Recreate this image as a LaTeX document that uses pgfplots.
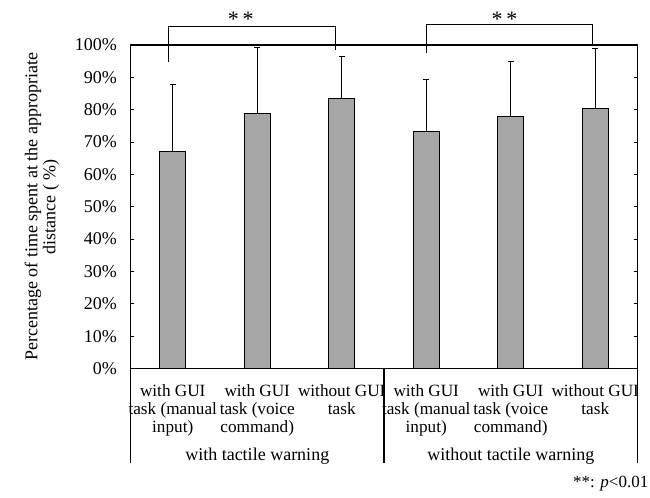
\documentclass[border=0pt]{standalone}
\usepackage{fontspec}
\setmainfont{Liberation Serif}
\usepackage{pgfplots}
\pgfplotsset{compat=1.18}
\definecolor{bargray}{HTML}{A6A6A6}
\begin{document}
\begin{tikzpicture}[font=\fontsize{18bp}{18bp}\selectfont]
\useasboundingbox (-130.5bp,-129.5bp) rectangle (519.5bp,368.5bp);
\begin{axis}[
  at={(0,0)}, anchor=south west,
  scale only axis, width=507bp, height=323.5bp,
  xmin=-0.5, xmax=5.5, ymin=0, ymax=100,
  clip=false,
  axis line style={line width=1.5bp},
  ytick={0,10,...,100},
  yticklabel={\pgfmathprintnumber{\tick}\%},
  /pgf/number format/assume math mode=true,
  tick align=inside, major tick length=4bp,
  ytick style={line width=1bp, black},
  tick label style={font=\fontsize{18bp}{18bp}\selectfont},
  yticklabel style={xshift=-10bp},
  xtick={0,1,2,3,4,5},
  xticklabels={{with GUI\\task (manual\\input)},{with GUI\\task (voice\\command)},{without GUI\\task},{with GUI\\task (manual\\input)},{with GUI\\task (voice\\command)},{without GUI\\task}},
  xtick style={draw=none},
  xticklabel style={align=center, yshift=-12.5bp, font=\fontsize{17.2bp}{18bp}\selectfont},
  ylabel={Percentage of time spent at the appropriate\\distance ( \%)},
  ylabel style={align=center, at={(axis description cs:-0.1746,0.5)}, anchor=center},
  label style={font=\fontsize{18bp}{18bp}\selectfont},
]
\addplot[ybar, bar width=26bp, fill=bargray, draw=black, line width=0.8bp,
  error bars/.cd, y dir=plus, y explicit,
  error bar style={line width=0.8bp, black},
  error mark options={rotate=90, mark size=3bp, line width=0.8bp, black}]
  coordinates {
  (0,67.2) +- (0,20.7)
  (1,78.9) +- (0,20.4)
  (2,83.5) +- (0,13.1)
  (3,73.2) +- (0,16.3)
  (4,77.8) +- (0,17.0)
  (5,80.3) +- (0,18.7)
};
% significance brackets
\draw[line width=0.8bp] (axis cs:-0.048,94.7) -- (axis cs:-0.048,105.9) -- (axis cs:1.921,105.9) -- (axis cs:1.921,98.5);
\draw[line width=0.8bp] (axis cs:2.998,97.6) -- (axis cs:2.998,106.4) -- (axis cs:4.971,106.4) -- (axis cs:4.971,100);
\node[font=\fontsize{22bp}{22bp}\selectfont] at (axis cs:0.804,108.0) {*\,*};
\node[font=\fontsize{22bp}{22bp}\selectfont] at (axis cs:3.927,108.0) {*\,*};
% category frame below axis
\draw[line width=1.5bp] (rel axis cs:0,0) -- ++(0bp,-94.5bp);
\draw[line width=1.5bp] (rel axis cs:0.5,0) -- ++(0bp,-94.5bp);
\draw[line width=1.5bp] (rel axis cs:1,0) -- ++(0bp,-94.5bp);
\node[anchor=base] at ([yshift=-91.5bp]axis cs:1,0) {with tactile warning};
\node[anchor=base] at ([yshift=-91.5bp]axis cs:4,0) {without tactile warning};
\node[anchor=base east, inner sep=0pt, font=\fontsize{17bp}{17bp}\selectfont] at ([xshift=11bp,yshift=-118.5bp]rel axis cs:1,0) {**: \textit{p}<0.01};
\end{axis}
\end{tikzpicture}
\end{document}
